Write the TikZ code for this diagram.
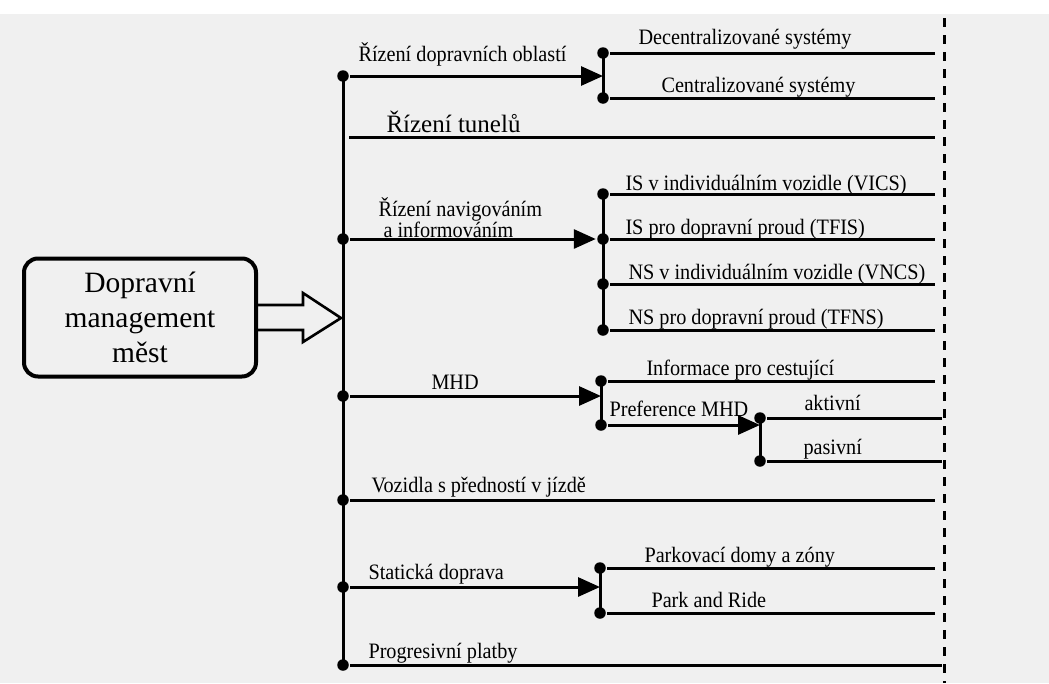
\documentclass[tikz,border=0pt]{standalone}
\usepackage{fontspec}
\setmainfont{Liberation Serif}
\newfontfamily\tallfont{Liberation Serif}[FakeStretch=0.92]
\usetikzlibrary{arrows.meta}

\begin{document}
\begin{tikzpicture}[
        x=1pt, y=-1pt,
        >={Triangle[length=22pt, width=19pt]},
        line width=3pt,
        dot/.style={circle, fill, inner sep=0pt, minimum size=11.5pt},
        lbl/.style={anchor=base west, inner sep=0pt, font=\tallfont\fontsize{22}{24}\selectfont},
        fence/.style={line width=3pt, dash pattern=on 9pt off 8pt},
    ]
        \useasboundingbox (0,0) rectangle (1049,683);
        \fill[black!6] (0,14) rectangle (1049,683);

        % Entities
        \node[draw, line width=4pt, rounded corners=14pt, minimum width=232pt, minimum height=118pt,
            align=center, font=\fontsize{29.5}{35}\selectfont] (dmm) at (140,317.5) {Dopravní\\management\\měst};
        \coordinate (rim) at (935,0);
        \coordinate (rim2) at (942,0);

        % Main trunk
        \node[dot] (t-obl) at (343,76) {};
        \coordinate (t-tun) at (349,137);
        \node[dot] (t-nav) at (343,239) {};
        \coordinate (t-in) at (341,318);
        \node[dot] (t-mhd) at (343,396) {};
        \node[dot] (t-voz) at (343,500) {};
        \node[dot] (t-sta) at (343,587) {};
        \node[dot] (t-plat) at (343,665) {};
        \draw (t-obl.center) -- (t-plat.center);

        % Hollow arrow into the trunk
        \draw[line width=2.6pt] (258,305) -- (303,305) -- (303,293) -- (t-in) -- (303,342) -- (303,330) -- (258,330);

        % Řízení dopravních oblastí
        \node[lbl] (lab-obl) at (357,61) {Řízení dopravních oblastí};
        \node[dot] (o-dec) at (603,53) {};
        \coordinate (o-hub) at (603,76);
        \node[dot] (o-cen) at (603,98) {};
        \draw (o-dec.center) -- (o-cen.center);
        \draw[->] (t-obl) -- (o-hub);
        \node[lbl] (lab-dec) at (637,44) {Decentralizované systémy};
        \node[lbl] (lab-cen) at (660,92) {Centralizované systémy};
        \draw (o-dec) -- (o-dec -| rim);
        \draw (o-cen) -- (o-cen -| rim);

        % Řízení tunelů
        \node[lbl, font=\fontsize{25}{28}\selectfont] (lab-tun) at (385,132) {Řízení tunelů};
        \draw (t-tun) -- (t-tun -| rim);

        % Řízení navigováním a informováním
        \node[lbl, text height=14pt, text depth=2pt] (lab-nav) at (377,216) {Řízení navigováním};
        \node[lbl, text height=14pt, text depth=1pt] (lab-nav2) at (382,237) {a informováním};
        \node[dot] (n-vics) at (603,194) {};
        \node[dot] (n-tfis) at (603,239) {};
        \node[dot] (n-vncs) at (603,284) {};
        \node[dot] (n-tfns) at (603,330) {};
        \draw (n-vics.center) -- (n-tfns.center);
        \draw[->] (t-nav) -- (n-tfis);
        \node[lbl] (lab-vics) at (624,190) {IS v individuálním vozidle (VICS)};
        \node[lbl] (lab-tfis) at (624,234) {IS pro dopravní proud (TFIS)};
        \node[lbl] (lab-vncs) at (627,279) {NS v individuálním vozidle (VNCS)};
        \node[lbl] (lab-tfns) at (627,324) {NS pro dopravní proud (TFNS)};
        \draw (n-vics) -- (n-vics -| rim);
        \draw (n-tfis) -- (n-tfis -| rim);
        \draw (n-vncs) -- (n-vncs -| rim);
        \draw (n-tfns) -- (n-tfns -| rim);

        % MHD
        \node[lbl] (lab-mhd) at (430,389) {MHD};
        \node[dot] (m-inf) at (601,381) {};
        \coordinate (m-hub) at (601,396);
        \node[dot] (m-pref) at (601,425) {};
        \draw (m-inf.center) -- (m-pref.center);
        \draw[->] (t-mhd) -- (m-hub);
        \node[lbl] (lab-inf) at (645,375) {Informace pro cestující};
        \draw (m-inf) -- (m-inf -| rim);
        \node[lbl] (lab-pref) at (608,416) {Preference MHD};
        \node[dot] (p-akt) at (760,418) {};
        \coordinate (p-hub) at (760,425);
        \node[dot] (p-pas) at (760,461) {};
        \draw (p-akt.center) -- (p-pas.center);
        \draw[->] (m-pref) -- (p-hub);
        \node[lbl] (lab-akt) at (803,410) {aktivní};
        \node[lbl] (lab-pas) at (802,454) {pasivní};
        \draw (p-akt) -- (p-akt -| rim2);
        \draw (p-pas) -- (p-pas -| rim2);

        % Vozidla s předností v jízdě
        \node[lbl] (lab-voz) at (370,492) {Vozidla s předností v jízdě};
        \draw (t-voz) -- (t-voz -| rim);

        % Statická doprava
        \node[lbl] (lab-sta) at (367,579) {Statická doprava};
        \node[dot] (s-park) at (600,568) {};
        \coordinate (s-hub) at (600,587);
        \node[dot] (s-pr) at (600,613) {};
        \draw (s-park.center) -- (s-pr.center);
        \draw[->] (t-sta) -- (s-hub);
        \node[lbl] (lab-park) at (643,562) {Parkovací domy a zóny};
        \node[lbl] (lab-pr) at (650,607) {Park and Ride};
        \draw (s-park) -- (s-park -| rim);
        \draw (s-pr) -- (s-pr -| rim);

        % Progresivní platby
        \node[lbl] (lab-plat) at (367,658) {Progresivní platby};
        \draw (t-plat) -- (t-plat -| rim2);

        % Dashed boundary
        \coordinate (f-top) at (944,18);
        \coordinate (f-bot) at (944,683);
        \draw[fence] (f-top) -- (f-bot);
    \end{tikzpicture}
\end{document}
